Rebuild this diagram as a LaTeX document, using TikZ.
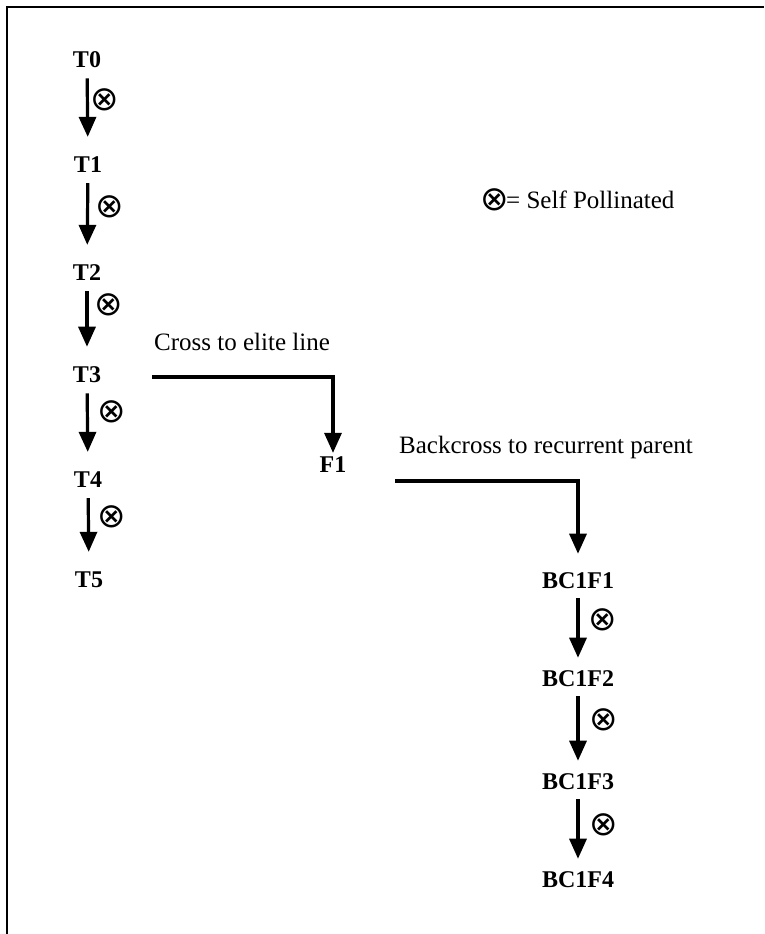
\documentclass[tikz,border=0pt]{standalone}
\usepackage{fontspec}
\setmainfont{Liberation Serif}
\newfontfamily\symfont{DejaVu Sans}
\usetikzlibrary{arrows.meta}
\begin{document}
\begin{tikzpicture}[x=1pt,y=-1pt,
  lbl/.style={font=\fontsize{24}{28}\selectfont\bfseries, inner sep=0pt},
  txt/.style={font=\fontsize{25}{28}\selectfont, inner sep=0pt, anchor=base west},
  sym/.style={font=\symfont\fontsize{34}{36}\selectfont, inner sep=0pt},
  arr/.style={line width=3.2pt, -{Triangle[width=17pt,length=20pt]}},
  gen/.style={arr, shorten <=10pt, shorten >=20pt},
  bcgen/.style={arr, shorten <=9pt, shorten >=13pt}]
\useasboundingbox (0,0) rectangle (764,934);
\draw[line width=2pt] (7,934) -- (7,7) -- (764,7);

% T column
\node[lbl] (t0) at (87,60) {T0};
\node[lbl] (t1) at (88,165) {T1};
\node[lbl] (t2) at (87,273) {T2};
\node[lbl] (t3) at (87,375) {T3};
\node[lbl] (t4) at (88,480) {T4};
\node[lbl] (t5) at (89,580) {T5};
\draw[gen] (t0) -- (t1);
\draw[gen] (t1) -- (t2);
\draw[gen] (t2) -- (t3);
\draw[gen] (t3) -- (t4);
\draw[gen] (t4) -- (t5);
\node[sym] (s0) at (105,100) {⊗};
\node[sym] (s1) at (110,207) {⊗};
\node[sym] (s2) at (109,305) {⊗};
\node[sym] (s3) at (112,412) {⊗};
\node[sym] (s4) at (112,517) {⊗};

% legend
\node[sym] (ls) at (495,200) {⊗};
\node[txt] (lt) at (506,208) {= Self Pollinated};

% cross
\node[txt] (crosst) at (154,350) {Cross to elite line};
\node[lbl] (f1) at (333,465) {F1};
\coordinate (crstart) at (152,377);
\draw[arr, shorten >=4pt] (crstart) -| (f1.north);

% backcross
\node[txt] (backt) at (399,453) {Backcross to recurrent parent};
\node[lbl] (b1) at (578,581) {BC1F1};
\node[lbl] (b2) at (578,679) {BC1F2};
\node[lbl] (b3) at (578,782) {BC1F3};
\node[lbl] (b4) at (578,880) {BC1F4};
\coordinate (bcstart) at (395,481);
\draw[arr, shorten >=19pt] (bcstart) -| (b1.north);
\draw[bcgen] (b1) -- (b2);
\draw[bcgen] (b2) -- (b3);
\draw[bcgen] (b3) -- (b4);
\node[sym] (s5) at (603,620) {⊗};
\node[sym] (s6) at (604,720) {⊗};
\node[sym] (s7) at (604,825) {⊗};
\end{tikzpicture}
\end{document}
